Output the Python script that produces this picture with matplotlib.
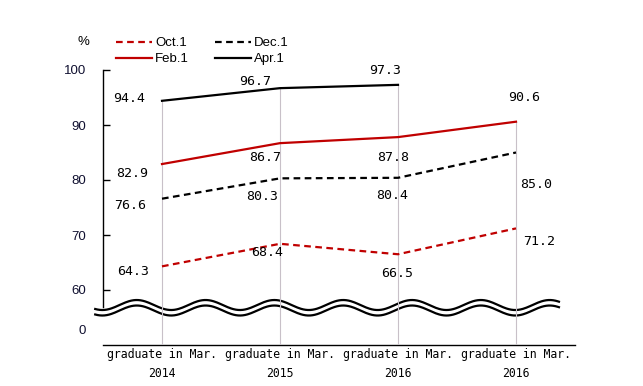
import numpy as np
import matplotlib
matplotlib.use("Agg")
import matplotlib.pyplot as plt

categories = ["graduate in Mar.\n2014", "graduate in Mar.\n2015",
              "graduate in Mar.\n2016", "graduate in Mar.\n2016"]
oct1 = [64.3, 68.4, 66.5, 71.2]
dec1 = [76.6, 80.3, 80.4, 85.0]
feb1 = [82.9, 86.7, 87.8, 90.6]
apr1 = [94.4, 96.7, 97.3]
ytick_vals = [60, 70, 80, 90, 100]

# label offsets (pixels)
off_oct = [(-29, -5), (-13, -9), (-1, -19), (23, -13)]
off_dec = [(-32, -7), (-18, -18), (-6, -18), (20, -32)]
off_feb = [(-30, -9), (-15, -14), (-5, -20), (8, 24)]
off_apr = [(-33, 2), (-25, 7), (-13, 14)]

RED = "#c00000"
W, H = 643, 386
fig = plt.figure(figsize=(W / 100, H / 100), dpi=100)
ax = fig.add_axes([103 / W, 1 - 345 / H, (575 - 103) / W, (345 - 70) / H])

x = np.arange(len(categories))
ax.set_xlim(-0.5, 3.5)
ax.set_ylim(50, 100)

# broken-axis: the "0" tick sits below the break
zero_pos = 50 + 15 / 5.5
ax.set_yticks([zero_pos] + ytick_vals)
ax.set_yticklabels(["0"] + [str(v) for v in ytick_vals],
                   fontfamily="Liberation Sans", fontsize=9.5, color="#101030")
ax.tick_params(axis="y", direction="in", length=5, width=1, pad=12)
ax.yaxis.get_major_ticks()[0].tick1line.set_visible(False)
ax.set_xticks(x)
ax.set_xticklabels(categories, fontfamily="DejaVu Sans Mono", fontsize=8.3,
                   linespacing=1.6)
ax.tick_params(axis="x", length=0, pad=2.5)
for s in ["top", "right"]:
    ax.spines[s].set_visible(False)
ax.spines["left"].set_bounds(57.0, 100)
ax.spines["left"].set_linewidth(1)
ax.spines["bottom"].set_linewidth(1)

# drop lines
tops = [max(vals) for vals in zip(oct1, dec1, feb1, apr1 + [0])]
for xi, t in zip(x, tops):
    ax.plot([xi, xi], [50, t], color="#c8c0c8", lw=0.8, zorder=4)

h_oct, = ax.plot(x, oct1, color=RED, lw=1.6, ls=(0, (3, 2)), zorder=5, label="Oct.1")
h_dec, = ax.plot(x, dec1, color="black", lw=1.6, ls=(0, (3, 2)), zorder=5, label="Dec.1")
h_feb, = ax.plot(x, feb1, color=RED, lw=1.6, zorder=5, label="Feb.1")
h_apr, = ax.plot(x[:len(apr1)], apr1, color="black", lw=1.6, zorder=5, label="Apr.1")

for vals, offs in [(oct1, off_oct), (dec1, off_dec), (feb1, off_feb), (apr1, off_apr)]:
    for xi, v, o in zip(x, vals, offs):
        ax.annotate(f"{v:.1f}", (xi, v), xytext=o, textcoords="offset pixels",
                    ha="center", va="center", fontfamily="DejaVu Sans Mono",
                    fontsize=9.5, zorder=6)

# wavy break
per = 69 / 118.3
xs = np.linspace(-0.566, 3.364, 400)
phase = -0.214
amp = 5 / 5.5
up = 57.27 + amp * np.cos(2 * np.pi * (xs - phase) / per)
lo = 56.27 + amp * np.cos(2 * np.pi * (xs - phase) / per)
ax.fill_between(xs, lo, up, color="white", zorder=3, clip_on=False, lw=0)
ax.plot(xs, up, color="black", lw=1.6, zorder=3.5, clip_on=False)
ax.plot(xs, lo, color="black", lw=1.6, zorder=3.5, clip_on=False)

leg = ax.legend([h_oct, h_feb, h_dec, h_apr], ["Oct.1", "Feb.1", "Dec.1", "Apr.1"],
                ncol=2, loc="upper left", bbox_to_anchor=(116 / W, 1 - 37 / H),
                bbox_transform=fig.transFigure, frameon=False, borderpad=0,
                borderaxespad=0, handlelength=2.7, handletextpad=0.25,
                columnspacing=2.0, labelspacing=0.3,
                prop={"family": "Liberation Sans", "size": 9.5})

fig.text(83 / W, 1 - 42 / H, "%", ha="center", va="center",
         fontfamily="Liberation Sans", fontsize=9.5)

fig.savefig("out.png", dpi=100)
